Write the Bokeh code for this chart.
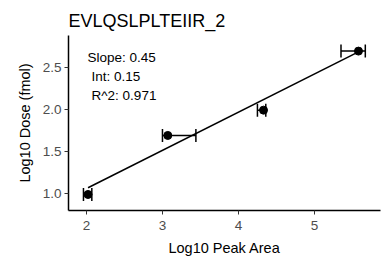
from bokeh.plotting import figure
from bokeh.models import Range1d, Whisker, ColumnDataSource, Label, FixedTicker, TeeHead, CustomJSTickFormatter
from bokeh.embed import file_html
from bokeh.resources import INLINE

title_text = "EVLQSLPLTEIIR_2"
x_label = "Log10 Peak Area"
y_label = "Log10 Dose (fmol)"

log_area = [2.02, 3.07, 4.33, 5.58]
log_dose = [0.99, 1.69, 1.99, 2.69]
area_lower = [1.96, 3.00, 4.25, 5.35]
area_upper = [2.07, 3.44, 4.36, 5.67]

fit_x = [2.02, 5.58]
fit_y = [1.07, 2.68]

stats_text = ["Slope: 0.45", "Int: 0.15", "R^2: 0.971"]

x_ticks = [2, 3, 4, 5]
y_ticks = [1.0, 1.5, 2.0, 2.5]

FONT = "Liberation Sans"

p = figure(width=381, height=262, output_backend="svg", toolbar_location=None,
           x_range=Range1d(1.763, 5.87), y_range=Range1d(0.80, 2.875),
           min_border_left=68, min_border_right=1, min_border_top=35, min_border_bottom=52)

p.title.text = title_text
p.title.text_font = FONT
p.title.text_font_size = "18px"
p.title.text_font_style = "normal"
p.title.text_color = "#000000"
p.title.align = "left"
p.title.offset = 0
p.title.standoff = 10

p.outline_line_color = None
p.background_fill_color = "white"
p.border_fill_color = "white"
p.grid.visible = False

for ax in (p.xaxis[0], p.yaxis[0]):
    ax.axis_line_color = "black"
    ax.axis_line_width = 1.5
    ax.major_tick_line_color = "#333333"
    ax.major_tick_line_width = 1
    ax.major_tick_out = 4
    ax.major_tick_in = 0
    ax.minor_tick_line_color = None
    ax.major_label_text_font = FONT
    ax.major_label_text_font_size = "13.5px"
    ax.major_label_text_color = "#4D4D4D"
    ax.axis_label_text_font = FONT
    ax.axis_label_text_font_size = "14.5px"
    ax.axis_label_text_font_style = "normal"
    ax.axis_label_text_color = "black"

p.xaxis[0].ticker = FixedTicker(ticks=x_ticks)
p.yaxis[0].ticker = FixedTicker(ticks=y_ticks)
p.yaxis[0].formatter = CustomJSTickFormatter(code="return tick.toFixed(1);")
p.xaxis[0].axis_label = x_label
p.yaxis[0].axis_label = y_label
p.xaxis[0].major_label_standoff = 6
p.yaxis[0].major_label_standoff = 3
p.xaxis[0].axis_label_standoff = 7
p.yaxis[0].axis_label_standoff = 7

src = ColumnDataSource(dict(x=log_area, y=log_dose, lo=area_lower, hi=area_upper))

p.line(fit_x, fit_y, line_color="black", line_width=1.5)

w = Whisker(source=src, base="y", lower="lo", upper="hi", dimension="width",
            line_color="black", line_width=1.5,
            upper_head=TeeHead(size=13, line_color="black", line_width=1.5),
            lower_head=TeeHead(size=13, line_color="black", line_width=1.5))
p.add_layout(w)

p.scatter("x", "y", source=src, size=8, color="black")

label_pos = [(2.013, 2.614), (2.066, 2.389), (2.066, 2.164)]
for t, (lx, ly) in zip(stats_text, label_pos):
    p.add_layout(Label(x=lx, y=ly, text=t, text_font=FONT, text_font_size="13.5px",
                       text_color="black", text_baseline="middle", text_align="left"))

open("out.html", "w").write(file_html(p, INLINE))
